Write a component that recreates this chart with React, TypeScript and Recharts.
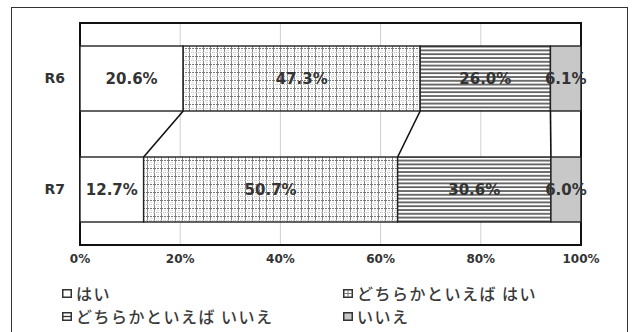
import {
  Bar,
  BarChart,
  CartesianGrid,
  LabelList,
  ReferenceArea,
  XAxis,
  YAxis
} from "recharts";

const categories = ["R6", "R7"];
const hai = [20.6, 12.7];
const dochiraHai = [47.3, 50.7];
const dochiraIie = [26.0, 30.6];
const iie = [6.1, 6.0];
const xTicks = [0, 20, 40, 60, 80, 100];
const seriesNames = ["はい", "どちらかといえば はい", "どちらかといえば いいえ", "いいえ"];

const data = categories.map((name, i) => ({
  name,
  s1: hai[i],
  s2: dochiraHai[i],
  s3: dochiraIie[i],
  s4: iie[i]
}));

const fills = ["#ffffff", "url(#patGrid)", "url(#patLines)", "#c8c8c8"];
const keys = ["s1", "s2", "s3", "s4"];
const labelFont = "'DejaVu Sans', sans-serif";

// bottom-right corner of the previous category's bar, per series
const prevEdge: Record<string, { x: number; y: number }> = {};

function makeShape(key: string, connect: boolean) {
  return (props: any) => {
    const { x, y, width, height, fill, index } = props;
    let line = null;
    if (index === 0) {
      prevEdge[key] = { x: x + width, y: y + height };
    } else if (connect && prevEdge[key]) {
      const p = prevEdge[key];
      line = (
        <line x1={p.x} y1={p.y} x2={x + width} y2={y} stroke="#111" strokeWidth={1.6} />
      );
    }
    return (
      <g>
        <rect x={x} y={y} width={width} height={height} fill={fill} stroke="#222" strokeWidth={1.4} />
        {line}
      </g>
    );
  };
}

function Marker({ kind }: { kind: number }) {
  return (
    <svg width={10} height={9} style={{ display: "block" }}>
      <rect x={0.75} y={0.75} width={8.5} height={7.5} fill={kind === 3 ? "#c8c8c8" : "#fff"} stroke="#333" strokeWidth={1.5} />
      {kind === 1 && (
        <>
          <line x1={5} y1={1} x2={5} y2={8} stroke="#777" strokeWidth={1} />
          <line x1={1} y1={4.5} x2={9} y2={4.5} stroke="#777" strokeWidth={1} />
        </>
      )}
      {kind === 2 && <line x1={1} y1={4.5} x2={9} y2={4.5} stroke="#333" strokeWidth={1.3} />}
    </svg>
  );
}

const legendPos = [
  { left: 62, top: 283 },
  { left: 343, top: 283 },
  { left: 62, top: 306 },
  { left: 343, top: 306 }
];

export default function App() {
  return (
    <div
      style={{
        position: "absolute",
        left: 0,
        top: 0,
        width: 633,
        height: 332,
        overflow: "hidden",
        background: "#fff"
      }}
    >
      <div
        style={{
          position: "absolute",
          left: 11,
          top: 7,
          width: 615,
          height: 340,
          border: "1.5px solid #333"
        }}
      />
      <BarChart
        width={633}
        height={332}
        data={data}
        layout="vertical"
        barSize={65}
        margin={{ top: 23, right: 52, bottom: 57, left: 0 }}
      >
        <defs>
          <pattern id="patGrid" width={7} height={8} patternUnits="userSpaceOnUse">
            <rect width={7} height={8} fill="#fff" />
            <line x1={0.5} y1={0} x2={0.5} y2={8} stroke="#888" strokeWidth={1} />
            <line x1={4} y1={0} x2={4} y2={8} stroke="#c4c4c4" strokeWidth={1} strokeDasharray="1 1" />
            <line x1={0} y1={0.5} x2={7} y2={0.5} stroke="#777" strokeWidth={1} strokeDasharray="2 1" />
            <line x1={0} y1={4.5} x2={7} y2={4.5} stroke="#c4c4c4" strokeWidth={1} strokeDasharray="1 1" />
          </pattern>
          <pattern id="patLines" width={8} height={3.8} patternUnits="userSpaceOnUse">
            <rect width={8} height={3.8} fill="#fff" />
            <line x1={0} y1={1} x2={8} y2={1} stroke="#333" strokeWidth={1.4} />
          </pattern>
        </defs>
        <CartesianGrid horizontal={false} stroke="#d0d0d0" />
        <XAxis
          type="number"
          domain={[0, 100]}
          ticks={xTicks}
          interval={0}
          tickFormatter={(v) => `${v}%`}
          height={30}
          tickLine={false}
          tickMargin={3}
          axisLine={false}
          tick={{ fontSize: 12, fontWeight: "bold", fill: "#333", fontFamily: labelFont }}
        />
        <YAxis
          type="category"
          dataKey="name"
          width={80}
          tickLine={false}
          tickMargin={9}
          axisLine={false}
          tick={{ fontSize: 14, fontWeight: "bold", fill: "#333", fontFamily: labelFont }}
        />
        {keys.map((k, i) => (
          <Bar
            key={k}
            dataKey={k}
            name={seriesNames[i]}
            stackId="a"
            fill={fills[i]}
            isAnimationActive={false}
            shape={makeShape(k, i < 3)}
          >
            <LabelList
              dataKey={k}
              position="center"
              formatter={(v: any) => `${Number(v).toFixed(1)}%`}
              fill="#333"
              fontSize={15}
              fontWeight="bold"
              fontFamily={labelFont}
            />
          </Bar>
        ))}
        <ReferenceArea
          x1={0}
          x2={100}
          fill="none"
          fillOpacity={0}
          stroke="#111"
          strokeWidth={2}
          ifOverflow="visible"
        />
      </BarChart>
      {seriesNames.map((n, i) => (
        <div
          key={n}
          style={{
            position: "absolute",
            left: legendPos[i].left,
            top: legendPos[i].top,
            height: 20,
            display: "flex",
            alignItems: "center",
            fontFamily: "'Noto Sans CJK JP', sans-serif",
            fontSize: 16,
            fontWeight: 500,
            letterSpacing: 1.5,
            color: "#3a3a3a",
            whiteSpace: "nowrap"
          }}
        >
          <Marker kind={i} />
          <span style={{ marginLeft: 4 }}>{n}</span>
        </div>
      ))}
    </div>
  );
}
